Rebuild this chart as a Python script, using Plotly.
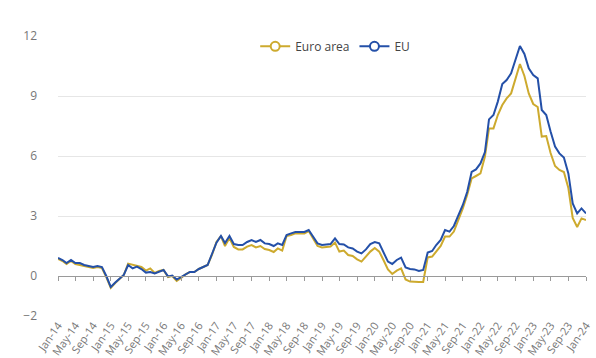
import plotly.graph_objects as go
import pandas as pd

months = pd.date_range("2014-01-01", "2024-01-01", freq="MS")

euro_area = [
    # 2014
    0.85, 0.75, 0.6, 0.75, 0.6, 0.55, 0.5, 0.45, 0.4, 0.45, 0.4, -0.05,
    # 2015
    -0.6, -0.35, -0.15, 0.05, 0.62, 0.55, 0.5, 0.45, 0.27, 0.38, 0.15, 0.25,
    # 2016
    0.3, -0.05, 0.0, -0.25, -0.1, 0.08, 0.2, 0.2, 0.35, 0.45, 0.55, 1.05,
    # 2017
    1.7, 2.0, 1.5, 1.9, 1.45, 1.33, 1.33, 1.47, 1.55, 1.43, 1.5, 1.35,
    # 2018
    1.3, 1.2, 1.38, 1.27, 2.0, 2.05, 2.13, 2.13, 2.13, 2.25, 1.9, 1.5,
    # 2019
    1.43, 1.45, 1.47, 1.67, 1.22, 1.27, 1.05, 1.0, 0.83, 0.72, 0.97, 1.22,
    # 2020
    1.4, 1.22, 0.8, 0.33, 0.1, 0.27, 0.38, -0.17, -0.28, -0.3, -0.3, -0.3,
    # 2021
    0.93, 0.97, 1.22, 1.5, 1.97, 1.97, 2.22, 2.8, 3.38, 4.05, 4.88, 5.0,
    # 2022
    5.13, 5.97, 7.38, 7.38, 8.05, 8.55, 8.88, 9.13, 9.88, 10.6, 10.0, 9.13,
    # 2023
    8.6, 8.45, 6.97, 7.0, 6.15, 5.5, 5.3, 5.2, 4.4, 2.9, 2.45, 2.88,
    # 2024
    2.8,
]

eu = [
    # 2014
    0.9, 0.8, 0.65, 0.8, 0.65, 0.65, 0.55, 0.5, 0.45, 0.5, 0.45, 0.0,
    # 2015
    -0.55, -0.33, -0.17, 0.05, 0.55, 0.38, 0.47, 0.35, 0.17, 0.2, 0.13, 0.2,
    # 2016
    0.3, -0.02, 0.02, -0.18, -0.05, 0.1, 0.2, 0.2, 0.35, 0.45, 0.55, 1.1,
    # 2017
    1.67, 2.0, 1.65, 2.0, 1.6, 1.55, 1.55, 1.7, 1.8, 1.7, 1.8, 1.63,
    # 2018
    1.6, 1.5, 1.63, 1.55, 2.05, 2.13, 2.2, 2.2, 2.2, 2.3, 1.97, 1.63,
    # 2019
    1.55, 1.58, 1.6, 1.88, 1.6, 1.58, 1.43, 1.38, 1.22, 1.13, 1.33, 1.6,
    # 2020
    1.7, 1.63, 1.22, 0.72, 0.6, 0.8, 0.92, 0.43, 0.35, 0.33, 0.25, 0.3,
    # 2021
    1.17, 1.25, 1.55, 1.8, 2.3, 2.22, 2.5, 3.05, 3.55, 4.2, 5.2, 5.33,
    # 2022
    5.63, 6.2, 7.83, 8.05, 8.72, 9.6, 9.8, 10.13, 10.8, 11.5, 11.1, 10.38,
    # 2023
    10.05, 9.88, 8.3, 8.05, 7.22, 6.47, 6.13, 5.92, 5.13, 3.63, 3.13, 3.38,
    # 2024
    3.13,
]

y_ticks = [-2, 0, 3, 6, 9, 12]
series_names = ["Euro area", "EU"]

GOLD = "#CDAA2E"
BLUE = "#2450A8"
FONT = "Open Sans"

fig = go.Figure()

# data lines
fig.add_trace(go.Scatter(x=months, y=euro_area, mode="lines", name=series_names[0],
                         line=dict(color=GOLD, width=2), showlegend=False))
fig.add_trace(go.Scatter(x=months, y=eu, mode="lines", name=series_names[1],
                         line=dict(color=BLUE, width=2), showlegend=False))

# legend entries (on the overlay axis used for the zero-line ticks)
for nm, col in zip(series_names, [GOLD, BLUE]):
    fig.add_trace(go.Scatter(x=months, y=[None] * len(months), mode="lines+markers", name=nm,
                             xaxis="x2",
                             line=dict(color=col, width=2),
                             marker=dict(symbol="circle", size=9, color="white",
                                         line=dict(color=col, width=2)),
                             hoverinfo="skip"))

x_range = [months[0], months[-1]]
ymin, ymax = -2, 12

fig.update_layout(
    width=596, height=358,
    margin=dict(l=58, r=10, t=36, b=42),
    paper_bgcolor="white", plot_bgcolor="white",
    font=dict(family=FONT, color="#666666", size=12),
    showlegend=True,
    legend=dict(orientation="h", x=0.525, xanchor="center", y=1.015, yanchor="top",
                font=dict(size=12, color="#444444", family=FONT),
                bgcolor="rgba(0,0,0,0)", itemwidth=30, tracegroupgap=0),
    xaxis=dict(type="date", range=x_range, tickformat="%b-%y", dtick="M4",
               tick0="2014-01-01", tickangle=-55, showgrid=False, showline=False,
               ticks="", zeroline=False, automargin=False,
               tickfont=dict(size=11, color="#777777", family=FONT)),
    xaxis2=dict(type="date", range=x_range, overlaying="x", anchor="free",
                position=(0 - ymin) / (ymax - ymin), dtick="M4", tick0="2014-01-01",
                showline=True, linecolor="#9a9a9a", linewidth=1,
                ticks="outside", ticklen=4, tickcolor="#9a9a9a", tickwidth=1,
                showticklabels=False, showgrid=False, zeroline=False),
    yaxis=dict(range=[ymin, ymax], tickvals=y_ticks, showgrid=True,
               gridcolor="#e6e6e6", gridwidth=1, zeroline=False, showline=False,
               ticks="", ticklabelstandoff=20, automargin=False,
               tickfont=dict(size=12, color="#777777", family=FONT)),
)

fig.write_html("out.html")
